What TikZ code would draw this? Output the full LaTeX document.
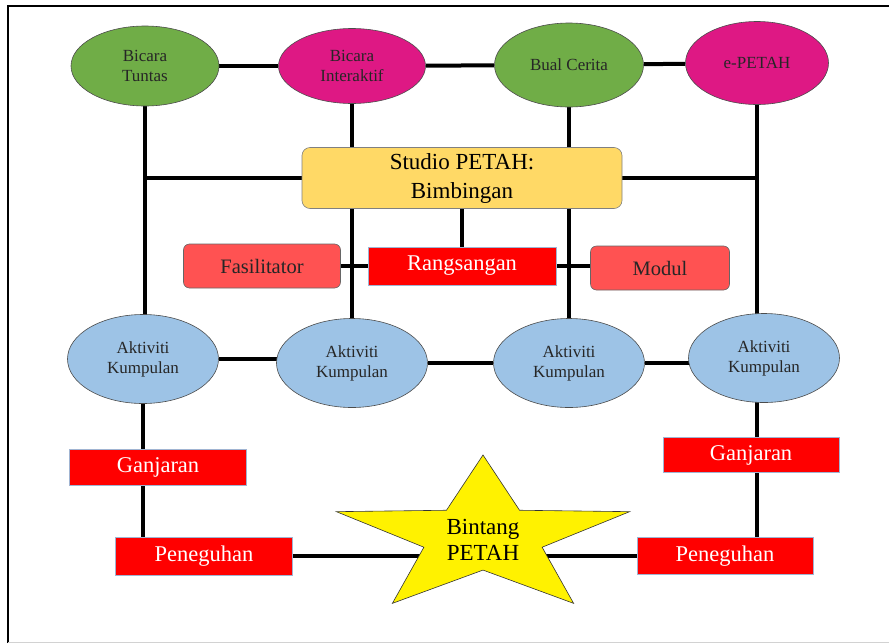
\documentclass[tikz,border=0pt]{standalone}
\usepackage{fontspec}
\IfFontExistsTF{LiberationSerif-Regular.ttf}{\setmainfont{LiberationSerif-Regular.ttf}}{}
\usetikzlibrary{shapes.geometric,backgrounds}
\definecolor{hijau}{RGB}{112,173,71}
\definecolor{ungu}{RGB}{222,24,132}
\definecolor{biru}{RGB}{157,195,230}
\definecolor{kuning}{RGB}{255,217,102}
\definecolor{merah}{RGB}{255,0,0}
\definecolor{merahmuda}{RGB}{255,82,82}
\definecolor{tepi}{RGB}{160,180,210}

\begin{document}
\begin{tikzpicture}[x=1pt, y=-1pt,
  oval/.style={ellipse, draw=black!70, line width=0.6pt, align=center, inner sep=0pt, text=black!85, font=\fontsize{17}{20}\selectfont},
  redbox/.style={rectangle, fill=merah, draw=tepi, line width=0.6pt, inner sep=0pt, text=white, font=\fontsize{22.5}{26}\selectfont},
  softbox/.style={rectangle, rounded corners=6pt, fill=merahmuda, draw=black!60, line width=0.6pt, inner sep=0pt, text=black!85, minimum height=44, font=\fontsize{20.5}{24}\selectfont},
  penghubung/.style={line width=4pt}
]
  \useasboundingbox (0,0) rectangle (889,643);
  % Frame
  \draw[line width=2pt] (8,643) -- (8,6) -- (889,6);
  \draw[gray!35, line width=1pt] (8,642) -- (889,642);

  % Top row
  \node[oval, fill=hijau, minimum width=148, minimum height=80] (tuntas) at (145,66) {Bicara\\Tuntas};
  \node[oval, fill=ungu, minimum width=147, minimum height=75] (interaktif) at (352,66) {Bicara\\Interaktif};
  \node[oval, fill=hijau, minimum width=149, minimum height=84] (bual) at (569,65) {Bual Cerita};
  \node[oval, fill=ungu, minimum width=143, minimum height=83] (epetah) at (757,63) {e-PETAH};

  % Studio and its boxes
  \node[rectangle, rounded corners=8pt, fill=kuning, draw=black!50, line width=0.6pt, minimum width=320, minimum height=61, align=center, font=\fontsize{23}{29}\selectfont] (studio) at (462,178) {Studio PETAH:\\Bimbingan};
  \node[redbox, minimum width=188, minimum height=38] (rangs) at (462,266) {Rangsangan};
  \node[softbox, minimum width=157] (fasil) at (262,266) {Fasilitator};
  \node[softbox, minimum width=139] (modul) at (660,268) {Modul};

  % Group activities
  \foreach \n/\x/\y in {1/143/359, 2/352/363, 3/569/363, 4/764/358} {
    \node[oval, fill=biru, minimum width=151, minimum height=89] (akt\n) at (\x,\y) {Aktiviti\\Kumpulan};
  }

  % Rewards
  \node[redbox, minimum width=177, minimum height=36] (ganj1) at (158,467) {Ganjaran};
  \node[redbox, minimum width=176, minimum height=35] (ganj2) at (751,455) {Ganjaran};
  \node[redbox, minimum width=177, minimum height=38] (pen1) at (204,556) {Peneguhan};
  \node[redbox, minimum width=176, minimum height=37] (pen2) at (725,556) {Peneguhan};

  % Star
  \begin{scope}[shift={(483,537)}, xscale=1.88]
    \node[star, star points=5, star point ratio=2.48, minimum size=164, inner sep=0pt, transform shape, fill=yellow, draw=black!80, line width=0.6pt] (bintangstar) at (0,0) {};
  \end{scope}
  \node[align=center, inner sep=0pt, font=\fontsize{23}{26}\selectfont] (bintang) at (483,540) {Bintang\\PETAH};

  % Connectors
  \begin{scope}[on background layer]
    \draw[penghubung] (tuntas) -- (interaktif);
    \draw[penghubung] (interaktif) -- (bual);
    \draw[penghubung] (bual) -- (epetah);
    \draw[penghubung] (tuntas) -- (tuntas |- akt1);
    \draw[penghubung] (interaktif) -- (interaktif |- akt2);
    \draw[penghubung] (bual) -- (bual |- akt3);
    \draw[penghubung] (epetah) -- (epetah |- akt4);
    \draw[penghubung] (studio) -- (tuntas |- studio);
    \draw[penghubung] (studio) -- (epetah |- studio);
    \draw[penghubung] (studio) -- (rangs);
    \draw[penghubung] (fasil) -- (rangs);
    \draw[penghubung] (rangs) -- (rangs -| modul);
    \draw[penghubung] (akt1) -- (akt1 -| akt2);
    \draw[penghubung] (akt2) -- (akt3);
    \draw[penghubung] (akt3) -- (akt3 -| akt4);
    \draw[penghubung] (akt1) -- (akt1 |- ganj1) -- (akt1 |- pen1);
    \draw[penghubung] (epetah |- akt4) -- (epetah |- ganj2) -- (epetah |- pen2);
    \draw[penghubung] (pen1) -- (pen1 -| bintang);
    \draw[penghubung] (pen2) -- (pen2 -| bintang);
  \end{scope}
\end{tikzpicture}
\end{document}
